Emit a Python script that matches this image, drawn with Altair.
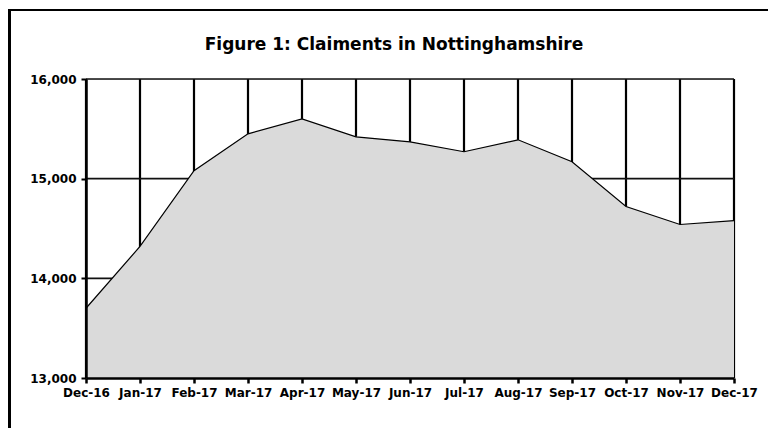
import altair as alt
import pandas as pd

title_text = "Figure 1: Claiments in Nottinghamshire"
months = ["Dec-16", "Jan-17", "Feb-17", "Mar-17", "Apr-17", "May-17", "Jun-17",
          "Jul-17", "Aug-17", "Sep-17", "Oct-17", "Nov-17", "Dec-17"]
claimants = [13700, 14320, 15080, 15450, 15600, 15420, 15370,
             15270, 15390, 15170, 14720, 14540, 14580]
y_ticks = [13000, 14000, 15000, 16000]
h_grid = [14000, 15000, 16000]

W, H = 648, 299
FONT = "DejaVu Sans"

df = pd.DataFrame({"month": months, "claimants": claimants, "base": [13000] * len(months)})
vgrid = pd.DataFrame({"month": months})
hgrid = pd.DataFrame({"val": h_grid})
tdf = pd.DataFrame({"t": [title_text]})

xscale = alt.Scale(type="point", domain=months, padding=0)
yscale = alt.Scale(domain=[13000, 16000], zero=False, nice=False)

xaxis = alt.Axis(title=None, labelAngle=0, grid=False, domainColor="black",
                 domainWidth=2.5, tickColor="black", tickWidth=2.5, tickSize=5,
                 labelFont=FONT, labelFontWeight="bold", labelFontSize=12,
                 labelColor="black", labelPadding=4, zindex=1)
yaxis = alt.Axis(title=None, values=y_ticks, format=",d", grid=False,
                 domainColor="black", domainWidth=2.5, tickColor="black",
                 tickWidth=2, tickSize=5, labelFont=FONT, labelFontWeight="bold",
                 labelFontSize=12, labelColor="black", labelPadding=5, zindex=1)

vlines = alt.Chart(vgrid).mark_rule(color="black", strokeWidth=2.2).encode(
    x=alt.X("month:N", scale=xscale, axis=xaxis),
    y=alt.value(0),
    y2=alt.value(H),
)

hlines = alt.Chart(hgrid).mark_rule(color="#111111", strokeWidth=1.6).encode(
    y=alt.Y("val:Q", scale=yscale, axis=yaxis),
    x=alt.value(0),
    x2=alt.value(W),
)

area = alt.Chart(df).mark_area(
    color="#dadada", opacity=1,
    line={"color": "black", "strokeWidth": 1.2},
).encode(
    x=alt.X("month:N", scale=xscale, axis=xaxis),
    y=alt.Y("claimants:Q", scale=yscale, axis=yaxis),
    y2="base:Q",
)

title = alt.Chart(tdf).mark_text(
    font=FONT, fontSize=17, fontWeight="bold", color="black",
    align="center", baseline="middle",
).encode(text="t:N", x=alt.value(308), y=alt.value(-34))

frame_left = alt.Chart(vgrid).mark_rule(color="black", strokeWidth=3).encode(
    x=alt.value(-76.5), y=alt.value(-69), y2=alt.value(H + 60))
frame_top = alt.Chart(vgrid).mark_rule(color="black", strokeWidth=1.5).encode(
    x=alt.value(-78), x2=alt.value(W + 40), y=alt.value(-69))

chart = alt.layer(vlines, hlines, area, title, frame_left, frame_top).properties(
    width=W, height=H,
    autosize=alt.AutoSizeParams(type="none"),
    padding={"left": 78, "top": 71, "right": 34, "bottom": 50},
).configure_view(stroke=None).configure(background="white")

chart.save("out.html", embed_options={"renderer": "svg", "actions": False})
